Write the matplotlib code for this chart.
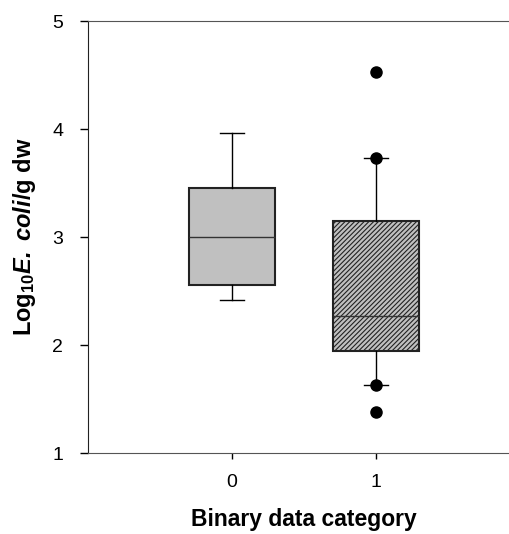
import matplotlib
matplotlib.use('Agg')
import matplotlib.pyplot as plt

plt.rcParams['font.family'] = ['Liberation Sans', 'DejaVu Sans']
plt.rcParams['mathtext.fontset'] = 'custom'
plt.rcParams['mathtext.rm'] = 'Liberation Sans'
plt.rcParams['mathtext.bf'] = 'Liberation Sans:bold'
plt.rcParams['mathtext.it'] = 'Liberation Sans:italic'
plt.rcParams['mathtext.bfit'] = 'Liberation Sans:bold:italic'
plt.rcParams['hatch.linewidth'] = 0.8
plt.rcParams['hatch.color'] = 'black'

# box statistics
categories = ['0', '1']
q1 = [2.56, 1.94]
medians = [3.00, 2.27]
q3 = [3.45, 3.15]
whisker_low = [2.42, 1.63]
whisker_high = [3.96, 3.73]
outliers = [[], [4.53, 3.73, 1.63, 1.38]]

stats = []
for i in range(len(categories)):
    stats.append({'label': categories[i], 'q1': q1[i], 'med': medians[i],
                  'q3': q3[i], 'whislo': whisker_low[i],
                  'whishi': whisker_high[i], 'fliers': outliers[i]})

fig = plt.figure(figsize=(5.10, 5.34), dpi=100)
ax = fig.add_axes([88 / 510, 1 - 453 / 534, 432 / 510, 432 / 534])

bp = ax.bxp(stats, positions=[0, 1], widths=0.6, patch_artist=True,
            boxprops=dict(linewidth=1.5, edgecolor='#222222'),
            medianprops=dict(color='#333333', linewidth=1.0),
            whiskerprops=dict(color='black', linewidth=1.0),
            capprops=dict(color='black', linewidth=1.0),
            capwidths=0.17,
            flierprops=dict(marker='o', markerfacecolor='black',
                            markeredgecolor='black', markersize=8))
bp['boxes'][0].set_facecolor('#c0c0c0')
bp['boxes'][1].set_facecolor('#c0c0c0')
bp['boxes'][1].set_hatch('/' * 7)

ax.set_xlim(-1, 2)
ax.set_ylim(1, 5)
ax.set_xticks([0, 1])
ax.set_xticklabels(categories)
ax.set_yticks([1, 2, 3, 4, 5])

ax.spines['right'].set_visible(False)
ax.spines['left'].set_color('#222222')
ax.spines['top'].set_color('#555555')
ax.spines['bottom'].set_color('#555555')
ax.tick_params(axis='y', direction='out', length=5.8, width=1, labelsize=14, pad=12)
ax.tick_params(axis='x', direction='out', length=4.3, width=1, labelsize=14, pad=11)

ax.set_xlabel('Binary data category', fontsize=16.5, fontweight='bold', labelpad=12)
ax.set_ylabel(r'$\mathbf{Log}_{\mathbf{10}}\mathbfit{E.\ coli}\mathbf{/g\ dw}$',
              fontsize=17, labelpad=10)

fig.savefig('out.png', dpi=100)
